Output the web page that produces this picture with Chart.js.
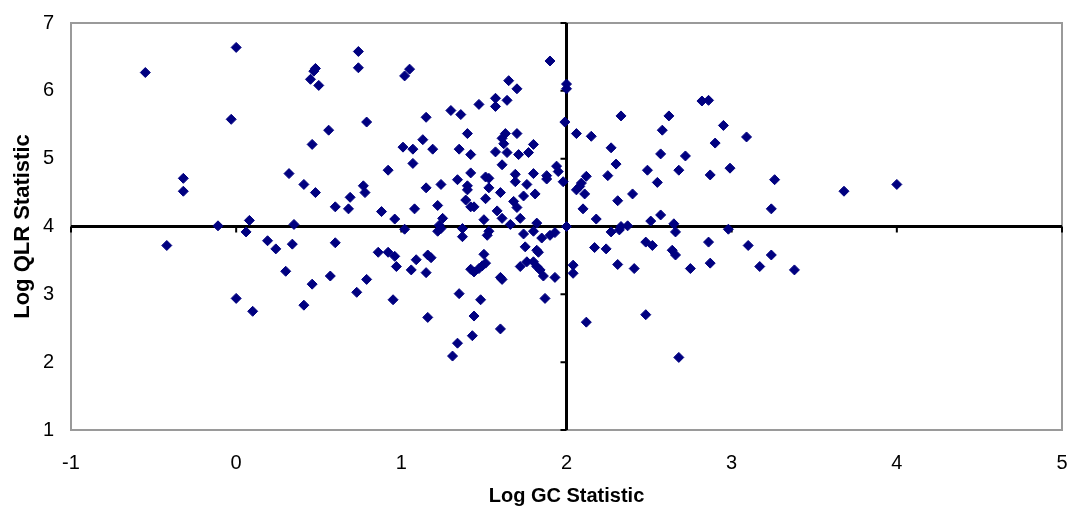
<!DOCTYPE html>
<html>
<head>
<meta charset="utf-8">
<script src="https://cdn.jsdelivr.net/npm/chart.js@4/dist/chart.umd.min.js"></script>
<style>
  body { margin: 0; background: #fff; }
  canvas { display: block; }
</style>
</head>
<body>
<canvas id="chart" width="1070" height="506"></canvas>
<script>
// ---- DATA ---- //
const xTicks = [-1, 0, 1, 2, 3, 4, 5];
const yTicks = [1, 2, 3, 4, 5, 6, 7];

// Log GC statistic (x) and Log QLR statistic (y)
const gcStat = [
  -0.55,0.00,0.48,0.47,0.45,0.50,-0.03,0.56,0.46,-0.32,-0.32,0.32,0.41,0.48,0.60,
  -0.11,0.08,0.06,0.35,-0.42,0.19,0.24,0.34,0.60,0.30,0.57,0.46,0.00,0.10,0.41,
  0.74,0.74,1.02,1.05,0.79,1.15,1.13,1.01,1.07,1.19,1.07,0.92,0.77,0.78,1.15,
  1.24,0.69,0.68,0.88,0.96,1.08,1.22,1.25,1.23,1.24,1.22,1.02,0.86,0.92,0.96,
  0.97,1.09,1.06,1.16,1.18,1.15,0.79,0.73,0.95,1.16,
  1.30,1.36,1.47,1.57,1.64,1.57,1.65,1.70,1.90,2.00,2.00,1.99,1.40,1.63,1.61,
  1.62,1.57,1.64,1.70,1.35,1.42,1.71,1.77,1.80,1.61,1.94,1.95,1.42,1.51,1.53,
  1.69,1.69,1.80,1.88,1.88,1.98,1.34,1.40,1.40,1.53,1.60,1.76,1.74,1.81,1.39,
  1.42,1.44,1.51,1.58,1.61,1.50,1.68,1.70,1.72,1.66,1.82,1.37,1.37,1.53,1.52,
  1.74,1.80,1.85,1.90,1.93,2.00,1.75,1.82,1.50,1.42,1.44,1.47,1.49,1.51,1.60,
  1.61,1.72,1.76,1.80,1.82,1.84,1.86,1.83,1.93,1.87,1.35,1.48,1.44,1.43,1.60,
  1.34,1.31,
  2.06,2.15,2.06,2.09,2.12,2.11,2.08,2.10,2.18,2.17,2.04,2.04,2.12,2.33,2.27,
  2.30,2.25,2.31,2.40,2.49,2.55,2.57,2.58,2.62,2.72,2.68,2.82,2.86,2.95,2.90,
  2.87,2.99,3.09,3.26,3.24,3.68,4.00,2.51,2.57,2.65,2.66,2.27,2.32,2.33,2.37,
  2.98,2.24,2.48,2.52,2.64,2.66,2.86,3.10,3.24,2.31,2.41,2.75,2.87,3.17,3.38,
  2.48,2.68
];
const qlrStat = [
  6.27,6.64,6.33,6.29,6.17,6.08,5.58,5.42,5.21,4.71,4.52,4.78,4.62,4.50,4.29,
  4.01,4.09,3.92,4.03,3.72,3.79,3.67,3.74,3.76,3.34,3.27,3.15,2.94,2.75,2.84,
  6.58,6.34,6.22,6.32,5.54,5.61,5.28,5.17,5.14,5.14,4.93,4.83,4.60,4.50,4.57,
  4.62,4.43,4.26,4.22,4.11,4.26,4.31,4.12,4.02,3.97,3.93,3.96,3.62,3.62,3.56,
  3.41,3.51,3.36,3.58,3.54,3.32,3.22,3.03,2.92,2.66,
  5.71,5.65,5.80,5.89,5.86,5.77,6.15,6.03,6.44,6.10,6.03,5.54,5.37,5.37,5.30,
  5.22,5.10,5.09,5.37,5.14,5.06,5.06,5.09,5.21,4.91,4.89,4.81,4.79,4.73,4.71,
  4.77,4.66,4.78,4.75,4.70,4.66,4.69,4.60,4.54,4.57,4.50,4.62,4.45,4.48,4.39,
  4.29,4.29,4.41,4.23,4.12,4.10,4.37,4.28,4.12,4.03,4.05,3.97,3.85,3.93,3.87,
  3.89,3.93,3.83,3.87,3.91,4.00,3.70,3.65,3.59,3.37,3.33,3.38,3.42,3.46,3.25,
  3.22,3.41,3.48,3.48,3.41,3.36,3.27,3.62,3.25,2.94,3.01,2.92,2.68,2.39,2.49,
  2.28,2.09,
  5.37,5.33,4.54,4.64,4.74,4.48,4.59,4.26,4.11,3.69,3.43,3.31,2.59,5.63,5.16,
  4.92,4.75,4.38,4.48,4.83,4.65,5.07,5.42,5.63,5.04,4.83,5.85,5.86,5.49,5.23,
  4.76,4.86,5.32,4.69,4.26,4.52,4.62,4.08,4.17,4.04,3.92,3.92,3.95,4.00,4.01,
  3.96,3.67,3.77,3.72,3.65,3.58,3.77,3.72,3.58,3.44,3.38,3.38,3.46,3.41,3.36,
  2.70,2.07
];

// axes cross here (Excel style)
const crossX = 2;
const crossY = 4;

const points = gcStat.map((x, i) => ({ x, y: qlrStat[i] }));

// ---- FRAME + CROSSING AXES ---- //
const quadrantAxes = {
  id: "quadrantAxes",
  beforeDatasetsDraw(chart) {
    const { ctx, chartArea: a, scales: { x, y } } = chart;
    ctx.save();
    ctx.strokeStyle = "#9a9a9a";
    ctx.lineWidth = 2;
    ctx.strokeRect(a.left, a.top, a.right - a.left, a.bottom - a.top);

    const x0 = x.getPixelForValue(crossX);
    const y0 = y.getPixelForValue(crossY);
    ctx.strokeStyle = "#000";
    ctx.lineWidth = 3;
    ctx.beginPath();
    ctx.moveTo(x0, a.top); ctx.lineTo(x0, a.bottom);
    ctx.moveTo(a.left, y0); ctx.lineTo(a.right, y0);
    ctx.stroke();

    ctx.lineWidth = 2;
    ctx.beginPath();
    yTicks.forEach(v => {
      const py = y.getPixelForValue(v);
      ctx.moveTo(x0 - 6, py); ctx.lineTo(x0, py);
    });
    xTicks.forEach(v => {
      const px = x.getPixelForValue(v);
      ctx.moveTo(px, y0); ctx.lineTo(px, y0 + 6);
    });
    ctx.stroke();
    ctx.restore();
  }
};

const tickFont = { family: "'Liberation Sans', Arial, sans-serif", size: 20 };
const titleFamily = "'Liberation Sans', Arial, sans-serif";

new Chart(document.getElementById("chart"), {
  type: "scatter",
  data: {
    datasets: [{
      data: points,
      pointStyle: "rectRot",
      pointRadius: 5,
      pointHoverRadius: 5,
      pointBorderWidth: 1,
      backgroundColor: "#000080",
      borderColor: "#000080"
    }]
  },
  options: {
    responsive: false,
    animation: false,
    layout: { padding: { top: 23, right: 8, left: 0, bottom: 0 } },
    plugins: { legend: { display: false }, tooltip: { enabled: false } },
    scales: {
      x: {
        type: "linear",
        min: -1, max: 5,
        afterBuildTicks: s => { s.ticks = xTicks.map(v => ({ value: v })); },
        afterFit: s => { s.height = 76; s.paddingLeft = 0; s.paddingRight = 0; },
        grid: { display: false, drawTicks: false },
        border: { display: false },
        ticks: { color: "#000", font: tickFont, padding: 21, maxRotation: 0 },
        title: {
          display: true, text: "Log GC Statistic", color: "#000",
          font: { family: titleFamily, size: 20, weight: "bold", lineHeight: 1.0 },
          padding: { top: 0, bottom: 0 }
        }
      },
      y: {
        type: "linear",
        min: 1, max: 7,
        afterBuildTicks: s => { s.ticks = yTicks.map(v => ({ value: v })); },
        afterFit: s => { s.width = 71; s.paddingTop = 0; s.paddingBottom = 0; },
        grid: { display: false, drawTicks: false },
        border: { display: false },
        ticks: { color: "#000", font: tickFont, padding: 17 },
        title: {
          display: true, text: "Log QLR Statistic", color: "#000",
          font: { family: titleFamily, size: 22, weight: "bold", lineHeight: 1.2 },
          padding: { top: 10, bottom: 0 }
        }
      }
    }
  },
  plugins: [quadrantAxes]
});
</script>
</body>
</html>
